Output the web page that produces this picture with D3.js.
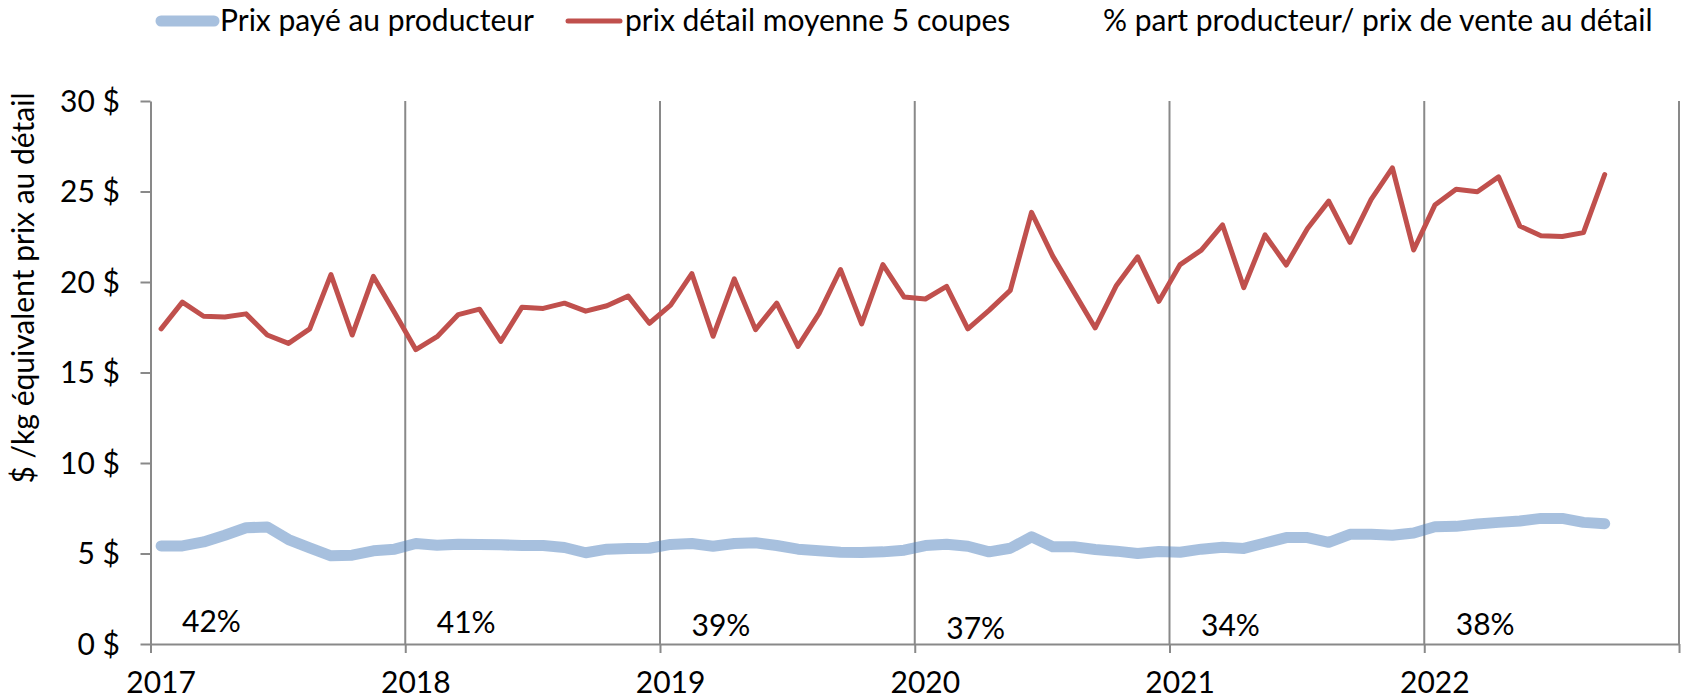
<!DOCTYPE html>
<html lang="fr">
<head>
<meta charset="utf-8">
<title>Prix payé au producteur et prix de détail</title>
<script src="https://cdn.jsdelivr.net/npm/d3@7"></script>
<style>
  html, body { margin: 0; padding: 0; background: #ffffff; }
  svg { display: block; }
  text { font-family: Lato, "Noto Sans", sans-serif; fill: #000000; }
</style>
</head>
<body>
<div id="chart"></div>
<script>
// Année de départ et libellés de l'axe horizontal
const startYear = 2017;
const yearLabels = ["2017", "2018", "2019", "2020", "2021", "2022"];

// Prix détail moyen des 5 coupes ($/kg), mensuel de janvier 2017 à septembre 2022
const retailPrice = [
  17.41, 18.89, 18.11, 18.07, 18.24, 17.07, 16.61, 17.41, 20.41, 17.07, 20.31, 18.30,
  16.26, 16.98, 18.20, 18.50, 16.72, 18.61, 18.54, 18.83, 18.39, 18.69, 19.22, 17.72,
  18.72, 20.46, 17.00, 20.17, 17.37, 18.83, 16.44, 18.28, 20.69, 17.69, 20.96, 19.17,
  19.06, 19.76, 17.41, 18.43, 19.54, 23.85, 21.43, 19.44, 17.46, 19.81, 21.39, 18.93,
  20.96, 21.76, 23.15, 19.69, 22.60, 20.94, 22.96, 24.47, 22.19, 24.56, 26.31, 21.77,
  24.25, 25.12, 24.99, 25.81, 23.09, 22.56, 22.51, 22.73, 25.94
];

// Prix payé au producteur ($/kg équivalent prix au détail), même période
const producerPrice = [
  5.42, 5.42, 5.64, 6.01, 6.42, 6.47, 5.77, 5.31, 4.87, 4.91, 5.15, 5.24,
  5.55, 5.46, 5.51, 5.50, 5.48, 5.44, 5.44, 5.33, 5.04, 5.24, 5.28, 5.29,
  5.50, 5.55, 5.40, 5.55, 5.59, 5.44, 5.24, 5.15, 5.07, 5.06, 5.09, 5.18,
  5.44, 5.51, 5.40, 5.09, 5.29, 5.92, 5.37, 5.37, 5.22, 5.13, 5.00, 5.11,
  5.07, 5.24, 5.35, 5.28, 5.58, 5.88, 5.88, 5.62, 6.06, 6.06, 6.01, 6.13,
  6.48, 6.50, 6.63, 6.72, 6.80, 6.94, 6.94, 6.72, 6.65
];

// Part du producteur dans le prix de vente au détail, par année
const producerShare = [42, 41, 39, 37, 34, 38];

// Graduations de l'axe vertical
const yTicks = [0, 5, 10, 15, 20, 25, 30];

// Libellés de la légende
const legendLabels = [
  "Prix payé au producteur",
  "prix détail moyenne 5 coupes",
  "% part producteur/ prix de vente au détail"
];

const W = 1684, H = 699;
const colors = { producer: "#4F81BD", retail: "#C0504D", grid: "#898989" };

// Ligne de base (px) de chaque étiquette de part, placées à la main sous les courbes
const shareBaselines = [632, 633, 636, 639, 636, 635];

const svg = d3.select("#chart").append("svg")
  .attr("width", W).attr("height", H)
  .attr("viewBox", `0 0 ${W} ${H}`);

// Échelles : x en mois depuis janvier 2017 (6 années), y en dollars
const nMonths = yearLabels.length * 12;
const x = d3.scaleLinear().domain([0, nMonths]).range([150.5, 1679]);
const y = d3.scaleLinear().domain([0, 30]).range([644, 101]);

const gridG = svg.append("g");

// Lignes verticales de séparation des années (et bord droit)
const yearBounds = d3.range(1, yearLabels.length + 1).map(k => k * 12);
gridG.selectAll("line.vgrid").data(yearBounds).enter().append("line")
  .attr("class", "vgrid")
  .attr("x1", d => x(d)).attr("x2", d => x(d))
  .attr("y1", y(30)).attr("y2", y(0))
  .attr("stroke", colors.grid).attr("stroke-width", 2);

// Axe horizontal : ligne, graduations sous l'axe, libellés des années
const xAxis = d3.axisBottom(x)
  .tickValues(d3.range(0, yearLabels.length + 1).map(k => k * 12))
  .tickSize(9)
  .tickSizeOuter(0)
  .tickFormat("");
const xAxisG = svg.append("g").attr("transform", `translate(0,${y(0)})`).call(xAxis);
xAxisG.select(".domain").attr("stroke", colors.grid).attr("stroke-width", 2);
xAxisG.selectAll(".tick line").attr("stroke", colors.grid).attr("stroke-width", 2);

svg.append("g").selectAll("text").data(yearLabels).enter().append("text")
  .attr("x", (d, i) => x(i * 12 + 0.5))
  .attr("y", 693)
  .attr("text-anchor", "middle")
  .attr("font-size", 30)
  .text(d => d);

// Axe vertical
const yAxis = d3.axisLeft(y)
  .tickValues(yTicks)
  .tickSize(10)
  .tickSizeOuter(0)
  .tickFormat("");
const yAxisG = svg.append("g").attr("transform", `translate(${x(0)},0)`).call(yAxis);
yAxisG.select(".domain").attr("stroke", colors.grid).attr("stroke-width", 2);
yAxisG.selectAll(".tick line").attr("stroke", colors.grid).attr("stroke-width", 2);

svg.append("g").selectAll("text").data(yTicks).enter().append("text")
  .attr("x", 120)
  .attr("y", d => y(d) + 10.5)
  .attr("text-anchor", "end")
  .attr("font-size", 30)
  .text(d => `${d} $`);

// Titre de l'axe vertical
svg.append("text")
  .attr("transform", `translate(34,288) rotate(-90)`)
  .attr("text-anchor", "middle")
  .attr("font-size", 30)
  .text("$ /kg équivalent prix au détail");

// Séries
const line = d3.line()
  .x((d, i) => x(i + 0.5))
  .y(d => y(d));

svg.append("path")
  .datum(producerPrice)
  .attr("d", line)
  .attr("fill", "none")
  .attr("stroke", colors.producer)
  .attr("stroke-opacity", 0.5)
  .attr("stroke-width", 11)
  .attr("stroke-linejoin", "round")
  .attr("stroke-linecap", "round");

svg.append("path")
  .datum(retailPrice)
  .attr("d", line)
  .attr("fill", "none")
  .attr("stroke", colors.retail)
  .attr("stroke-width", 5)
  .attr("stroke-linejoin", "round")
  .attr("stroke-linecap", "round");

// Part du producteur, une étiquette par année
svg.append("g").selectAll("text").data(producerShare).enter().append("text")
  .attr("x", (d, i) => x(i * 12 + 2.87))
  .attr("y", (d, i) => shareBaselines[i])
  .attr("text-anchor", "middle")
  .attr("font-size", 30)
  .text(d => `${d}%`);

// Légende
const legend = svg.append("g");
legend.append("line")
  .attr("x1", 161).attr("x2", 214).attr("y1", 21).attr("y2", 21)
  .attr("stroke", colors.producer).attr("stroke-opacity", 0.5)
  .attr("stroke-width", 11).attr("stroke-linecap", "round");
legend.append("text").attr("x", 220).attr("y", 31).attr("font-size", 30).text(legendLabels[0]);

legend.append("line")
  .attr("x1", 568).attr("x2", 620).attr("y1", 21).attr("y2", 21)
  .attr("stroke", colors.retail)
  .attr("stroke-width", 5).attr("stroke-linecap", "round");
legend.append("text").attr("x", 625).attr("y", 31).attr("font-size", 30).text(legendLabels[1]);

legend.append("text").attr("x", 1103).attr("y", 31).attr("font-size", 30).text(legendLabels[2]);
</script>
</body>
</html>
